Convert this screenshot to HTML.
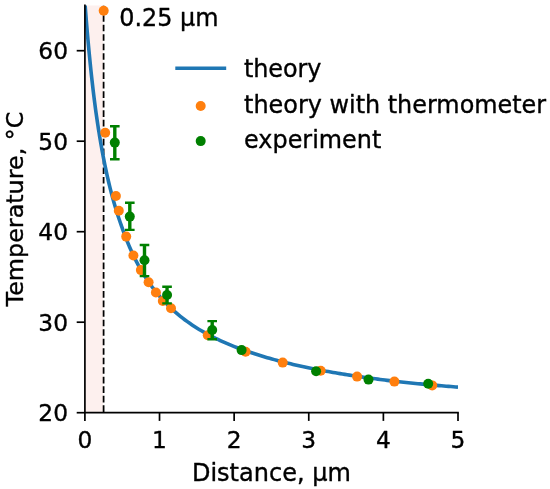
<!DOCTYPE html>
<html lang="en"><head><meta charset="utf-8"><title>Temperature vs distance</title>
<style>
html,body{margin:0;padding:0;background:#fff;}
body{width:550px;height:489px;overflow:hidden;}
svg text{font-family:"DejaVu Sans", "Liberation Sans", sans-serif;fill:#000;stroke:#000;stroke-width:0.36px;stroke-linejoin:round;}
</style></head><body>
<svg width="550" height="489" viewBox="0 0 550 489" style="display:block">
<rect width="550" height="489" fill="#fff"/>
<clipPath id="ax"><rect x="84.9" y="5.45" width="373.1" height="407.25"/></clipPath>
<rect x="84.9" y="5.45" width="18.30" height="407.25" fill="#fdf0ee"/>
<line x1="103.6" y1="412.7" x2="103.6" y2="5.45" stroke="#000" stroke-width="1.75" stroke-dasharray="6.64 2.875" stroke-dashoffset="8.735"/>
<path d="M85.11,5.00 L85.68,12.55 L86.26,19.83 L86.84,26.85 L87.41,33.63 L87.99,40.18 L88.56,46.51 L89.14,52.63 L89.72,58.55 L90.29,64.29 L90.87,69.84 L91.44,75.22 L92.02,80.44 L92.60,85.50 L93.17,90.42 L93.75,95.19 L94.32,99.82 L94.90,104.32 L95.48,108.70 L96.07,112.95 L96.66,117.09 L97.25,121.12 L97.84,125.04 L98.43,128.86 L99.02,132.58 L99.61,136.20 L100.20,139.73 L100.78,143.18 L101.37,146.54 L101.96,149.82 L102.55,153.02 L103.14,156.15 L103.73,159.20 L104.32,162.18 L104.91,165.10 L105.50,167.95 L106.09,170.73 L106.68,173.45 L107.26,176.11 L107.86,178.72 L108.45,181.27 L109.05,183.76 L109.64,186.20 L110.24,188.59 L110.83,190.93 L111.43,193.22 L112.03,195.47 L112.62,197.67 L113.22,199.83 L113.81,201.94 L114.41,204.02 L115.00,206.05 L115.60,208.04 L116.19,210.00 L116.78,211.92 L117.38,213.80 L117.97,215.65 L118.57,217.47 L119.16,219.25 L119.76,221.00 L120.35,222.72 L120.94,224.41 L121.52,226.07 L122.09,227.71 L122.66,229.32 L123.22,230.91 L123.79,232.46 L124.36,233.99 L124.92,235.50 L125.49,236.98 L126.06,238.44 L126.62,239.87 L127.19,241.28 L127.76,242.67 L128.32,244.04 L128.89,245.39 L129.46,246.71 L130.02,248.02 L130.59,249.30 L131.15,250.57 L133.49,255.60 L135.83,260.34 L138.17,264.80 L140.51,269.02 L142.85,273.01 L145.19,276.79 L147.52,280.38 L149.86,283.79 L152.20,287.03 L154.55,290.11 L156.90,293.05 L159.25,295.85 L161.59,298.53 L163.94,301.09 L166.28,303.54 L168.63,305.89 L170.97,308.15 L173.32,310.31 L175.66,312.39 L178.01,314.39 L180.35,316.31 L182.70,318.16 L185.05,319.95 L187.39,321.67 L189.74,323.33 L192.08,324.93 L194.43,326.48 L196.78,327.98 L199.12,329.42 L201.47,330.82 L203.82,332.18 L206.17,333.49 L208.52,334.76 L210.87,336.00 L213.21,337.19 L215.56,338.35 L217.91,339.48 L220.26,340.58 L222.61,341.64 L224.96,342.68 L227.31,343.68 L229.66,344.66 L232.01,345.62 L234.36,346.55 L236.71,347.45 L239.06,348.33 L241.41,349.19 L243.77,350.02 L246.11,350.85 L248.46,351.67 L250.80,352.48 L253.14,353.27 L255.48,354.04 L257.83,354.80 L260.17,355.53 L262.52,356.25 L264.86,356.96 L267.21,357.65 L269.56,358.33 L271.90,358.99 L274.25,359.64 L276.60,360.27 L278.95,360.89 L281.29,361.50 L283.64,362.10 L285.99,362.69 L288.34,363.26 L290.69,363.83 L293.04,364.38 L295.39,364.92 L297.74,365.46 L300.10,365.98 L302.45,366.49 L304.80,367.00 L307.15,367.49 L309.50,367.98 L311.85,368.46 L314.21,368.93 L316.56,369.39 L318.91,369.84 L321.27,370.29 L323.62,370.73 L325.97,371.16 L328.33,371.58 L330.68,372.00 L333.04,372.41 L335.39,372.82 L337.75,373.21 L340.10,373.60 L342.46,373.99 L344.81,374.37 L347.17,374.74 L349.52,375.11 L351.88,375.47 L354.23,375.83 L356.59,376.18 L358.94,376.53 L361.30,376.87 L363.66,377.21 L366.01,377.54 L368.37,377.87 L370.73,378.19 L373.08,378.51 L375.44,378.83 L377.79,379.14 L380.15,379.44 L382.51,379.75 L384.87,380.04 L387.22,380.34 L389.58,380.63 L391.94,380.91 L394.29,381.20 L396.65,381.48 L399.01,381.75 L401.37,382.01 L403.73,382.26 L406.09,382.50 L408.45,382.74 L410.81,382.98 L413.17,383.21 L415.53,383.45 L417.88,383.67 L420.24,383.90 L422.60,384.12 L424.96,384.34 L427.32,384.56 L429.68,384.77 L432.04,384.98 L434.40,385.19 L436.76,385.40 L439.12,385.60 L441.48,385.80 L443.84,386.00 L446.20,386.20 L448.56,386.39 L450.92,386.58 L453.28,386.77 L455.64,386.96 L458.00,387.14" fill="none" stroke="#1f77b4" stroke-width="3.6" stroke-linejoin="round" stroke-linecap="butt" clip-path="url(#ax)"/>
<circle cx="103.7" cy="10.8" r="5.0" fill="#ff7f0e"/>
<circle cx="105.2" cy="132.8" r="5.0" fill="#ff7f0e"/>
<circle cx="115.9" cy="196.0" r="5.0" fill="#ff7f0e"/>
<circle cx="118.8" cy="210.7" r="5.0" fill="#ff7f0e"/>
<circle cx="126.2" cy="236.6" r="5.0" fill="#ff7f0e"/>
<circle cx="133.4" cy="255.5" r="5.0" fill="#ff7f0e"/>
<circle cx="140.9" cy="270.1" r="5.0" fill="#ff7f0e"/>
<circle cx="148.6" cy="282.3" r="5.0" fill="#ff7f0e"/>
<circle cx="155.9" cy="292.5" r="5.0" fill="#ff7f0e"/>
<circle cx="162.8" cy="301.0" r="5.0" fill="#ff7f0e"/>
<circle cx="171" cy="308.3" r="5.0" fill="#ff7f0e"/>
<circle cx="207.8" cy="335.3" r="5.0" fill="#ff7f0e"/>
<circle cx="245.6" cy="351.7" r="5.0" fill="#ff7f0e"/>
<circle cx="282.7" cy="362.6" r="5.0" fill="#ff7f0e"/>
<circle cx="320.7" cy="370.7" r="5.0" fill="#ff7f0e"/>
<circle cx="357.1" cy="376.6" r="5.0" fill="#ff7f0e"/>
<circle cx="394.4" cy="381.6" r="5.0" fill="#ff7f0e"/>
<circle cx="432.2" cy="385.4" r="5.0" fill="#ff7f0e"/>
<path d="M114.8,126.3 V159.2" stroke="#008000" stroke-width="3.4" fill="none"/>
<path d="M110.0,126.3 H119.6 M110.0,159.2 H119.6" stroke="#008000" stroke-width="2.4" fill="none"/>
<path d="M129.8,202.7 V229.9" stroke="#008000" stroke-width="3.4" fill="none"/>
<path d="M125.00000000000001,202.7 H134.60000000000002 M125.00000000000001,229.9 H134.60000000000002" stroke="#008000" stroke-width="2.4" fill="none"/>
<path d="M144.5,245.0 V276.1" stroke="#008000" stroke-width="3.4" fill="none"/>
<path d="M139.7,245.0 H149.3 M139.7,276.1 H149.3" stroke="#008000" stroke-width="2.4" fill="none"/>
<path d="M167.05,286.8 V303.4" stroke="#008000" stroke-width="3.4" fill="none"/>
<path d="M162.25,286.8 H171.85000000000002 M162.25,303.4 H171.85000000000002" stroke="#008000" stroke-width="2.4" fill="none"/>
<path d="M212.2,321.1 V339.2" stroke="#008000" stroke-width="3.4" fill="none"/>
<path d="M207.39999999999998,321.1 H217.0 M207.39999999999998,339.2 H217.0" stroke="#008000" stroke-width="2.4" fill="none"/>
<circle cx="114.8" cy="142.6" r="5.0" fill="#008000"/>
<circle cx="129.8" cy="216.6" r="5.0" fill="#008000"/>
<circle cx="144.5" cy="260.3" r="5.0" fill="#008000"/>
<circle cx="167.05" cy="295.0" r="5.0" fill="#008000"/>
<circle cx="212.2" cy="330.0" r="5.0" fill="#008000"/>
<circle cx="241.6" cy="350.1" r="5.0" fill="#008000"/>
<circle cx="316.1" cy="371.3" r="5.0" fill="#008000"/>
<circle cx="368.5" cy="379.6" r="5.0" fill="#008000"/>
<circle cx="428.2" cy="383.7" r="5.0" fill="#008000"/>
<path d="M84.9,5.45 V412.7 H458.0" fill="none" stroke="#000" stroke-width="1.7" stroke-linecap="square"/>
<line x1="84.90" y1="412.7" x2="84.90" y2="420.9" stroke="#000" stroke-width="1.7"/>
<text x="84.90" y="448.4" text-anchor="middle" font-size="23.3">0</text>
<line x1="159.52" y1="412.7" x2="159.52" y2="420.9" stroke="#000" stroke-width="1.7"/>
<text x="159.52" y="448.4" text-anchor="middle" font-size="23.3">1</text>
<line x1="234.14" y1="412.7" x2="234.14" y2="420.9" stroke="#000" stroke-width="1.7"/>
<text x="234.14" y="448.4" text-anchor="middle" font-size="23.3">2</text>
<line x1="308.76" y1="412.7" x2="308.76" y2="420.9" stroke="#000" stroke-width="1.7"/>
<text x="308.76" y="448.4" text-anchor="middle" font-size="23.3">3</text>
<line x1="383.38" y1="412.7" x2="383.38" y2="420.9" stroke="#000" stroke-width="1.7"/>
<text x="383.38" y="448.4" text-anchor="middle" font-size="23.3">4</text>
<line x1="458.00" y1="412.7" x2="458.00" y2="420.9" stroke="#000" stroke-width="1.7"/>
<text x="458.00" y="448.4" text-anchor="middle" font-size="23.3">5</text>
<line x1="84.9" y1="412.70" x2="76.7" y2="412.70" stroke="#000" stroke-width="1.7"/>
<text x="68.0" y="421.20" text-anchor="end" font-size="23.3">20</text>
<line x1="84.9" y1="322.20" x2="76.7" y2="322.20" stroke="#000" stroke-width="1.7"/>
<text x="68.0" y="330.70" text-anchor="end" font-size="23.3">30</text>
<line x1="84.9" y1="231.70" x2="76.7" y2="231.70" stroke="#000" stroke-width="1.7"/>
<text x="68.0" y="240.20" text-anchor="end" font-size="23.3">40</text>
<line x1="84.9" y1="141.20" x2="76.7" y2="141.20" stroke="#000" stroke-width="1.7"/>
<text x="68.0" y="149.70" text-anchor="end" font-size="23.3">50</text>
<line x1="84.9" y1="50.70" x2="76.7" y2="50.70" stroke="#000" stroke-width="1.7"/>
<text x="68.0" y="59.20" text-anchor="end" font-size="23.3">60</text>
<text x="271.4" y="480.7" text-anchor="middle" font-size="24">Distance, µm</text>
<text transform="translate(22.7,209.0) rotate(-90)" text-anchor="middle" font-size="23.85">Temperature, °C</text>
<text x="119.2" y="26.0" font-size="23.9">0.25 µm</text>
<line x1="175.3" y1="68.3" x2="226.2" y2="68.3" stroke="#1f77b4" stroke-width="3.6"/>
<circle cx="200.7" cy="106.0" r="5.0" fill="#ff7f0e"/>
<circle cx="200.7" cy="141.1" r="5.0" fill="#008000"/>
<text x="244.1" y="76.8" font-size="23.9" letter-spacing="-0.12">theory</text>
<text x="244.1" y="112.5" font-size="23.9">theory with thermometer</text>
<text x="244.1" y="147.8" font-size="23.9">experiment</text>
</svg>
</body></html>
